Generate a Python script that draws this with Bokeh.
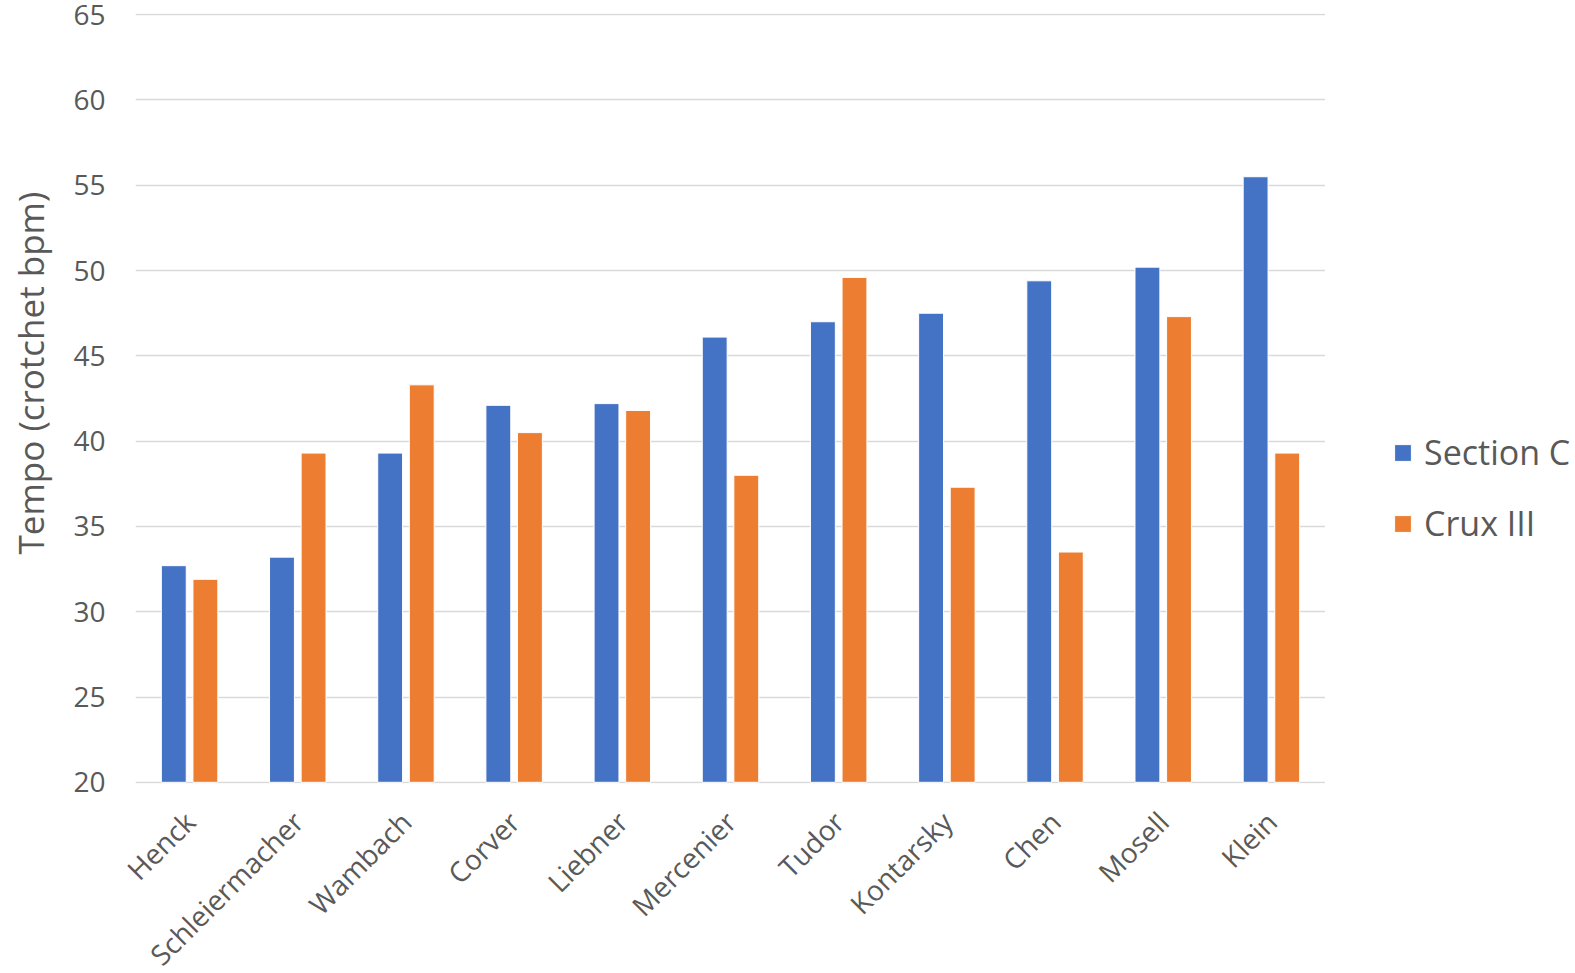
import math
from bokeh.plotting import figure
from bokeh.layouts import row
from bokeh.models import (ColumnDataSource, Legend, LegendItem, FactorRange, Range1d,
                          FixedTicker, Title)
from bokeh.transform import dodge
from bokeh.embed import file_html
from bokeh.resources import INLINE

performers = ["Henck", "Schleiermacher", "Wambach", "Corver", "Liebner", "Mercenier",
              "Tudor", "Kontarsky", "Chen", "Mosell", "Klein"]
section_c = [32.7, 33.2, 39.3, 42.1, 42.2, 46.1, 47.0, 47.5, 49.4, 50.2, 55.5]
crux_iii = [31.9, 39.3, 43.3, 40.5, 41.8, 38.0, 49.6, 37.3, 33.5, 47.3, 39.3]
y_ticks = [20, 25, 30, 35, 40, 45, 50, 55, 60, 65]
series_names = ["Section C", "Crux III"]
y_title = "Tempo (crotchet bpm)"

BLUE = "#4472C4"
ORANGE = "#ED7D31"
TXT = "#595959"
FONT = "Open Sans"


def blank(fig):
    fig.axis.visible = False
    fig.grid.visible = False
    fig.outline_line_color = None
    fig.background_fill_color = "white"
    fig.border_fill_color = "white"


src = ColumnDataSource(dict(cat=performers, sc=section_c, cx=crux_iii))

Y0, Y1 = 19.93, 65.07
p = figure(frame_width=1190, frame_height=770,
           x_range=FactorRange(factors=performers, range_padding=0),
           y_range=Range1d(Y0, Y1),
           output_backend="svg", toolbar_location=None,
           min_border_left=80, min_border_right=0,
           min_border_top=13, min_border_bottom=0)
p.outline_line_color = None
p.background_fill_color = "white"
p.border_fill_color = "white"

r1 = p.vbar(x=dodge("cat", -0.146, range=p.x_range), top="sc", bottom=20, width=0.23,
            source=src, fill_color=BLUE, line_color="white", line_width=1)
r2 = p.vbar(x=dodge("cat", 0.146, range=p.x_range), top="cx", bottom=20, width=0.23,
            source=src, fill_color=ORANGE, line_color="white", line_width=1)

p.xgrid.grid_line_color = None
p.ygrid.grid_line_color = "#D9D9D9"
p.ygrid.grid_line_width = 1.5
p.yaxis.ticker = FixedTicker(ticks=y_ticks)

for ax in (p.xaxis[0], p.yaxis[0]):
    ax.axis_line_color = None
    ax.major_tick_line_color = None
    ax.minor_tick_line_color = None
    ax.major_tick_out = 0
    ax.major_tick_in = 0
    ax.major_label_text_color = TXT
    ax.major_label_text_font = FONT
    ax.major_label_text_font_size = "28px"

p.yaxis.major_label_standoff = 30
p.xaxis.major_label_orientation = math.pi / 4
p.xaxis.major_label_standoff = 33

# y-axis title in a narrow strip to the left
tf = figure(width=55, height=973, x_range=(0, 1), y_range=(0, 1),
            output_backend="svg", toolbar_location=None,
            min_border_left=53, min_border_right=0, min_border_top=0, min_border_bottom=0)
blank(tf)
tf.add_layout(Title(text=y_title, align="left", offset=213,
                    text_font=FONT, text_font_size="35px", text_font_style="normal",
                    text_color=TXT, standoff=0), "left")

# legend strip to the right of the plot area
lg = figure(width=250, height=973, x_range=(0, 1), y_range=(0, 1),
            output_backend="svg", toolbar_location=None,
            min_border_left=0, min_border_right=0, min_border_top=0, min_border_bottom=0)
blank(lg)
nan = float("nan")
d1 = lg.vbar(x=[nan], top=[nan], width=0.1, fill_color=BLUE, line_color="white", line_width=1)
d2 = lg.vbar(x=[nan], top=[nan], width=0.1, fill_color=ORANGE, line_color="white", line_width=1)

legend = Legend(items=[LegendItem(label=series_names[0], renderers=[d1]),
                       LegendItem(label=series_names[1], renderers=[d2])],
                location=(67, 221), orientation="vertical",
                glyph_width=21, glyph_height=21, label_standoff=11,
                spacing=25, padding=0, margin=0,
                border_line_color=None, background_fill_alpha=0,
                label_text_font=FONT, label_text_font_size="34px",
                label_text_color=TXT)
lg.add_layout(legend, "center")

layout = row(tf, p, lg)
open("out.html", "w").write(file_html(layout, INLINE))
